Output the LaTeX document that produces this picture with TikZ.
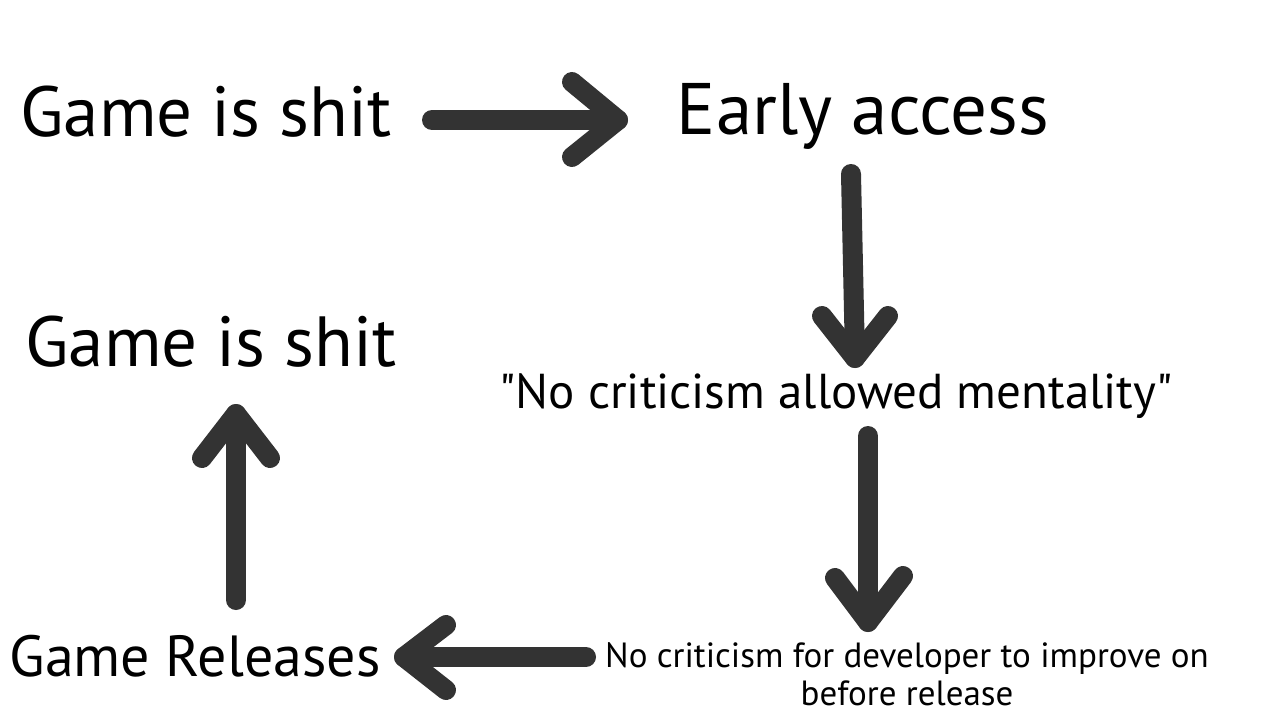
\documentclass[tikz,border=0pt]{standalone}
\usepackage{fontspec}
\setmainfont{PT Sans}
\newfontfamily\plainquotes{PT Sans}
\usetikzlibrary{calc}
\definecolor{arrowgray}{HTML}{333333}
\tikzset{
  lbl/.style={inner sep=0pt, text=black, align=center},
  arr/.style={draw=arrowgray, line width=20pt, line cap=round, line join=round},
}
\begin{document}
\begin{tikzpicture}[x=1pt,y=-1pt]
\useasboundingbox[fill=white] (0,0) rectangle (1280,720);
% texts
\node[lbl, font=\fontsize{71}{71}\selectfont] (g1) at (206,112) {Game is shit};
\node[lbl, font=\fontsize{73}{73}\selectfont] (ea) at (863,116) {Early access};
\node[lbl, font=\plainquotes\fontsize{49}{49}\selectfont] (nc) at (836,396) {"No criticism allowed mentality"};
\node[lbl, font=\fontsize{35}{38}\selectfont, align=center] (nd) at (907,674) {No criticism for developer to improve on\\before release};
\node[lbl, font=\fontsize{58}{58}\selectfont] (gr) at (195,656) {Game Releases};
\node[lbl, font=\fontsize{71}{71}\selectfont] (g2) at (211,342) {Game is shit};
% arrow anchors
\coordinate (a1s) at (432,120);
\coordinate (a1t) at (618,120);
\coordinate (a2s) at (851,174);
\coordinate (a2t) at (855,358);
\coordinate (a3s) at (868,436);
\coordinate (a3t) at (868,622);
\coordinate (a4s) at (586,657);
\coordinate (a4t) at (404,657);
\coordinate (a5s) at (236,600);
\coordinate (a5t) at (236,414);
% arrows
\draw[arr] (a1s) -- (a1t);
\draw[arr] ($(a1t)+(-46,-38)$) -- (a1t) -- ($(a1t)+(-46,37)$);
\draw[arr] (a2s) -- (a2t);
\draw[arr] ($(a2t)+(-33,-42)$) -- (a2t) -- ($(a2t)+(33,-42)$);
\draw[arr] (a3s) -- (a3t);
\draw[arr] ($(a3t)+(-33,-44)$) -- (a3t) -- ($(a3t)+(35,-46)$);
\draw[arr] (a4s) -- (a4t);
\draw[arr] ($(a4t)+(42,-32)$) -- (a4t) -- ($(a4t)+(42,33)$);
\draw[arr] (a5s) -- (a5t);
\draw[arr] ($(a5t)+(-34,44)$) -- (a5t) -- ($(a5t)+(34,44)$);
\end{tikzpicture}
\end{document}
